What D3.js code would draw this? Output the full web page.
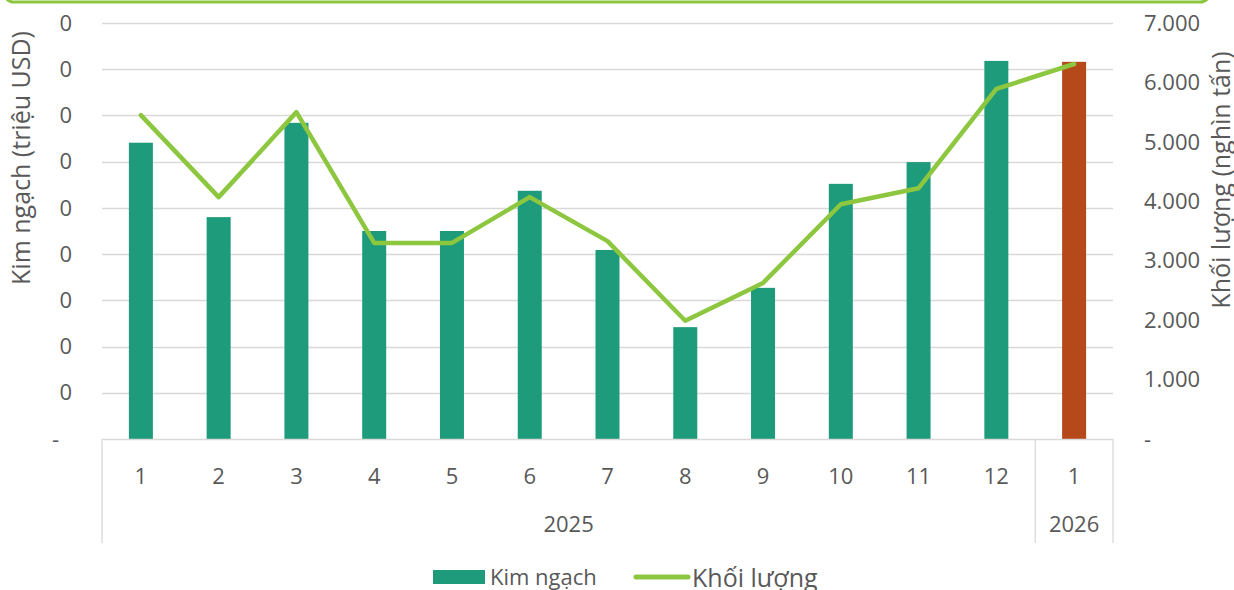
<!DOCTYPE html>
<html><head><meta charset="utf-8">
<script src="https://cdn.jsdelivr.net/npm/d3@7/dist/d3.min.js"></script>
<style>body{margin:0;background:#fff;} text{font-family:"Open Sans",sans-serif;fill:#595959;}</style>
</head><body>
<svg id="c" width="1234" height="590"></svg>
<script>
const months = ["1","2","3","4","5","6","7","8","9","10","11","12","1"];
const years = [{label:"2025", from:0, to:11},{label:"2026", from:12, to:12}];
const kimNgach = [0.641,0.480,0.684,0.450,0.450,0.537,0.409,0.242,0.327,0.552,0.599,0.818,0.816];
const khoiLuong = [5450,4070,5500,3300,3300,4070,3330,1990,2625,3950,4220,5890,6310];
const leftTicks = [0,0.1,0.2,0.3,0.4,0.5,0.6,0.7,0.8,0.9];
const leftTickLabels = ["-","0","0","0","0","0","0","0","0","0"];
const rightTicks = [0,1000,2000,3000,4000,5000,6000,7000];
const rightTickLabels = ["-","1.000","2.000","3.000","4.000","5.000","6.000","7.000"];
const barColors = months.map((m,i)=> i===12 ? "#B5491A" : "#1E9B7A");

const svg = d3.select("#c");
const L=102, R=1113, T=23, B=439;
const x = d3.scaleBand().domain(d3.range(months.length)).range([L,R]).paddingInner(0).paddingOuter(0);
const yL = d3.scaleLinear().domain([0,0.9]).range([B,T]);
const yR = d3.scaleLinear().domain([0,7000]).range([B,T]);

// top decorative border
svg.append("rect").attr("x",4).attr("y",-30).attr("width",1206).attr("height",32).attr("rx",10)
  .attr("fill","none").attr("stroke","#8DC63F").attr("stroke-width",3);

// grid
svg.append("g").selectAll("line").data(leftTicks.slice(1)).join("line")
  .attr("x1",L).attr("x2",R).attr("y1",d=>Math.round(yL(d))+0.5).attr("y2",d=>Math.round(yL(d))+0.5)
  .attr("stroke","#D9D9D9").attr("stroke-width",1.3);

// left ticks
svg.append("g").selectAll("text").data(leftTicks).join("text")
  .attr("x",d=>d===0?59:72).attr("y",d=>yL(d)).attr("dy","0.35em").attr("text-anchor","end")
  .attr("font-size",22).text((d,i)=>leftTickLabels[i]);
// right ticks
svg.append("g").selectAll("text").data(rightTicks).join("text")
  .attr("x",1144).attr("y",d=>yR(d)).attr("dy","0.35em").attr("text-anchor","start")
  .attr("font-size",22).text((d,i)=>rightTickLabels[i]);

// bars
const bw = 24;
svg.append("g").selectAll("rect").data(kimNgach).join("rect")
  .attr("x",(d,i)=>x(i)+x.bandwidth()/2-bw/2).attr("width",bw)
  .attr("y",d=>yL(d)).attr("height",d=>B-yL(d)).attr("fill",(d,i)=>barColors[i]);

// axis line & separators
svg.append("line").attr("x1",L).attr("x2",R).attr("y1",B+0.5).attr("y2",B+0.5).attr("stroke","#D9D9D9").attr("stroke-width",1.3);
const seps = [0, 12, 13];
svg.append("g").selectAll("line").data(seps).join("line")
  .attr("x1",d=>d===13?R:x(d)).attr("x2",d=>d===13?R:x(d))
  .attr("y1",B).attr("y2",543).attr("stroke","#D9D9D9").attr("stroke-width",1.3);

// month labels
svg.append("g").selectAll("text").data(months).join("text")
  .attr("x",(d,i)=>x(i)+x.bandwidth()/2).attr("y",476).attr("dy","0.35em").attr("text-anchor","middle")
  .attr("font-size",22).text(d=>d);
// year labels
svg.append("g").selectAll("text").data(years).join("text")
  .attr("x",d=>(x(d.from)+x(d.to)+x.bandwidth())/2).attr("y",524).attr("dy","0.35em").attr("text-anchor","middle")
  .attr("font-size",22).text(d=>d.label);

// line
svg.append("path").datum(khoiLuong)
  .attr("d",d3.line().x((d,i)=>x(i)+x.bandwidth()/2).y(d=>yR(d)))
  .attr("fill","none").attr("stroke","#8DC63F").attr("stroke-width",4.5).attr("stroke-linejoin","round").attr("stroke-linecap","round");

// axis titles
svg.append("text").attr("transform","translate(30,158) rotate(-90)").attr("text-anchor","middle")
  .attr("font-size",25).text("Kim ngạch (triệu USD)");
svg.append("text").attr("transform","translate(1230,180) rotate(-90)").attr("text-anchor","middle")
  .attr("font-size",25).text("Khối lượng (nghìn tấn)");

// legend
svg.append("rect").attr("x",433).attr("y",570).attr("width",52).attr("height",14).attr("fill","#1E9B7A");
svg.append("text").attr("x",490).attr("y",585).attr("font-size",22).text("Kim ngạch");
svg.append("line").attr("x1",636).attr("x2",688).attr("y1",577).attr("y2",577)
  .attr("stroke","#8DC63F").attr("stroke-width",5).attr("stroke-linecap","round");
svg.append("text").attr("x",692).attr("y",587).attr("font-size",25).text("Khối lượng");
</script>
</body></html>
